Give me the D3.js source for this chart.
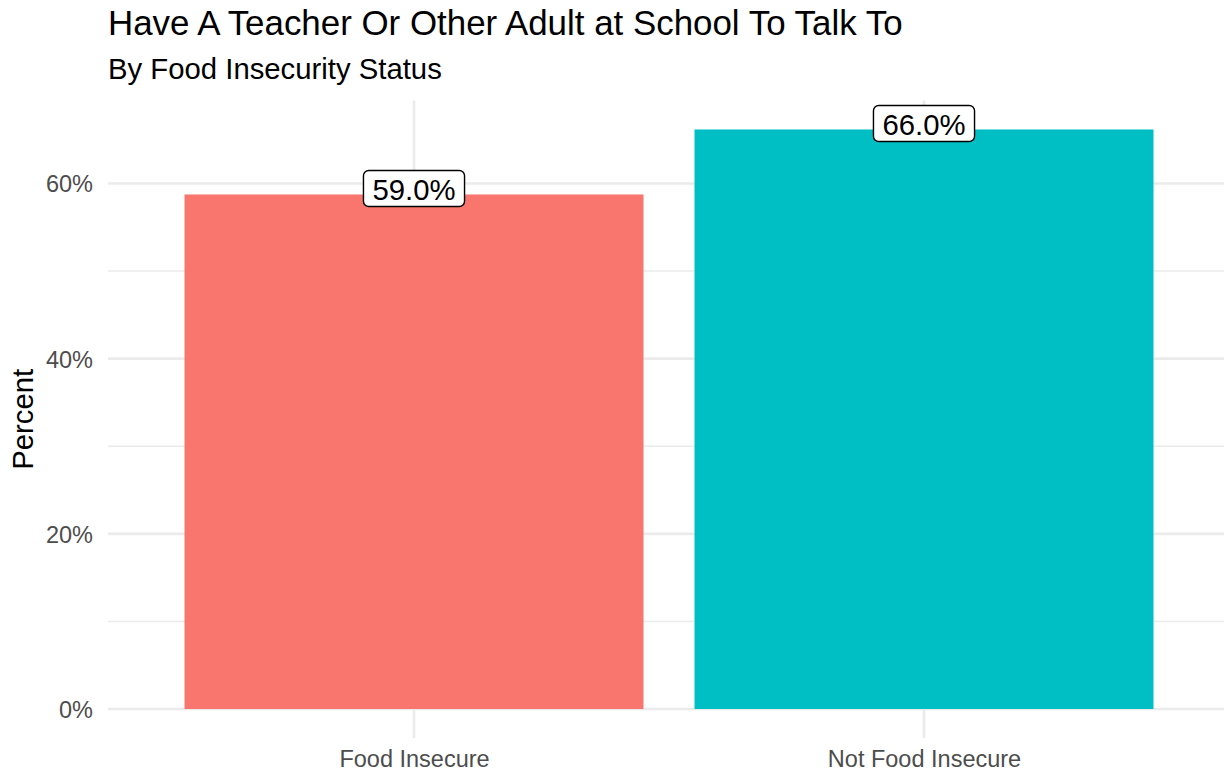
<!DOCTYPE html>
<html>
<head>
<meta charset="utf-8">
<script src="https://cdn.jsdelivr.net/npm/d3@7"></script>
<style>
  body { margin: 0; background: #fff; }
  svg { display: block; font-family: "Liberation Sans", Arial, sans-serif; }
  .domain { display: none; }
</style>
</head>
<body>
<svg id="chart" width="1224" height="776"></svg>
<script>
// data
const categories = ["Food Insecure", "Not Food Insecure"];
const percents = [58.74, 66.16];
const labels = ["59.0%", "66.0%"];
const colors = ["#F8766D", "#00BFC4"];
const majorTicks = [0, 20, 40, 60];
const minorTicks = [10, 30, 50];

const width = 1224;
const height = 776;
const panel = { left: 108, right: 1230, top: 100.5, bottom: 738 };

const svg = d3.select("#chart");

const maxVal = d3.max(percents);
const y = d3.scaleLinear()
  .domain([-0.05 * maxVal, maxVal * 1.05])
  .range([panel.bottom, panel.top]);

const x = d3.scalePoint()
  .domain(categories)
  .range([panel.left, panel.right])
  .padding(0.6);
const barW = x.step() * 0.9;

// grid lines
const grid = svg.append("g");
grid.selectAll(".minor")
  .data(minorTicks)
  .enter()
  .append("line")
  .attr("x1", panel.left).attr("x2", panel.right)
  .attr("y1", d => y(d)).attr("y2", d => y(d))
  .attr("stroke", "#EBEBEB")
  .attr("stroke-width", 1.4);
grid.selectAll(".major")
  .data(majorTicks)
  .enter()
  .append("line")
  .attr("x1", panel.left).attr("x2", panel.right)
  .attr("y1", d => y(d)).attr("y2", d => y(d))
  .attr("stroke", "#EBEBEB")
  .attr("stroke-width", 2.6);
grid.selectAll(".vert")
  .data(categories)
  .enter()
  .append("line")
  .attr("x1", d => x(d)).attr("x2", d => x(d))
  .attr("y1", panel.top).attr("y2", panel.bottom)
  .attr("stroke", "#EBEBEB")
  .attr("stroke-width", 2.6);

// bars
svg.append("g")
  .selectAll("rect")
  .data(categories)
  .enter()
  .append("rect")
  .attr("x", d => x(d) - barW / 2)
  .attr("width", barW)
  .attr("y", (d, i) => y(percents[i]))
  .attr("height", (d, i) => y(0) - y(percents[i]))
  .attr("fill", (d, i) => colors[i]);

// value labels (geom_label look)
const lab = svg.append("g")
  .selectAll("g")
  .data(categories)
  .enter()
  .append("g")
  .attr("transform", (d, i) => `translate(${x(d)}, ${y(percents[i]) - 6})`);
lab.append("text")
  .attr("text-anchor", "middle")
  .attr("y", 11.5)
  .attr("font-size", 29.3)
  .attr("fill", "#000")
  .text((d, i) => labels[i]);
lab.each(function () {
  const g = d3.select(this);
  const w = g.select("text").node().getComputedTextLength() + 18;
  g.insert("rect", "text")
    .attr("x", -w / 2)
    .attr("y", -18)
    .attr("width", w)
    .attr("height", 36)
    .attr("rx", 5.3)
    .attr("fill", "#fff")
    .attr("stroke", "#000")
    .attr("stroke-width", 1.4);
});

// y axis
svg.append("g")
  .attr("transform", `translate(${panel.left}, 0)`)
  .call(d3.axisLeft(y).tickValues(majorTicks).tickSize(0).tickPadding(15)
    .tickFormat(d => d + "%"))
  .call(g => g.selectAll(".tick text")
    .attr("font-size", 23.5)
    .attr("font-family", "Liberation Sans, Arial, sans-serif")
    .attr("fill", "#4D4D4D")
    .attr("dy", "0.36em"));

// x axis
svg.append("g")
  .attr("transform", `translate(0, ${panel.bottom})`)
  .call(d3.axisBottom(x).tickSize(0).tickPadding(0))
  .call(g => g.selectAll(".tick text")
    .attr("font-size", 23.5)
    .attr("font-family", "Liberation Sans, Arial, sans-serif")
    .attr("fill", "#4D4D4D")
    .attr("dy", null)
    .attr("y", 29));

// axis title
svg.append("text")
  .attr("transform", `translate(33, ${(panel.top + panel.bottom) / 2}) rotate(-90)`)
  .attr("text-anchor", "middle")
  .attr("font-size", 29.3)
  .attr("fill", "#000")
  .text("Percent");

// titles
svg.append("text")
  .attr("x", panel.left)
  .attr("y", 35)
  .attr("font-size", 34.9)
  .attr("fill", "#000")
  .text("Have A Teacher Or Other Adult at School To Talk To");
svg.append("text")
  .attr("x", panel.left)
  .attr("y", 79)
  .attr("font-size", 29.3)
  .attr("fill", "#000")
  .text("By Food Insecurity Status");
</script>
</body>
</html>
